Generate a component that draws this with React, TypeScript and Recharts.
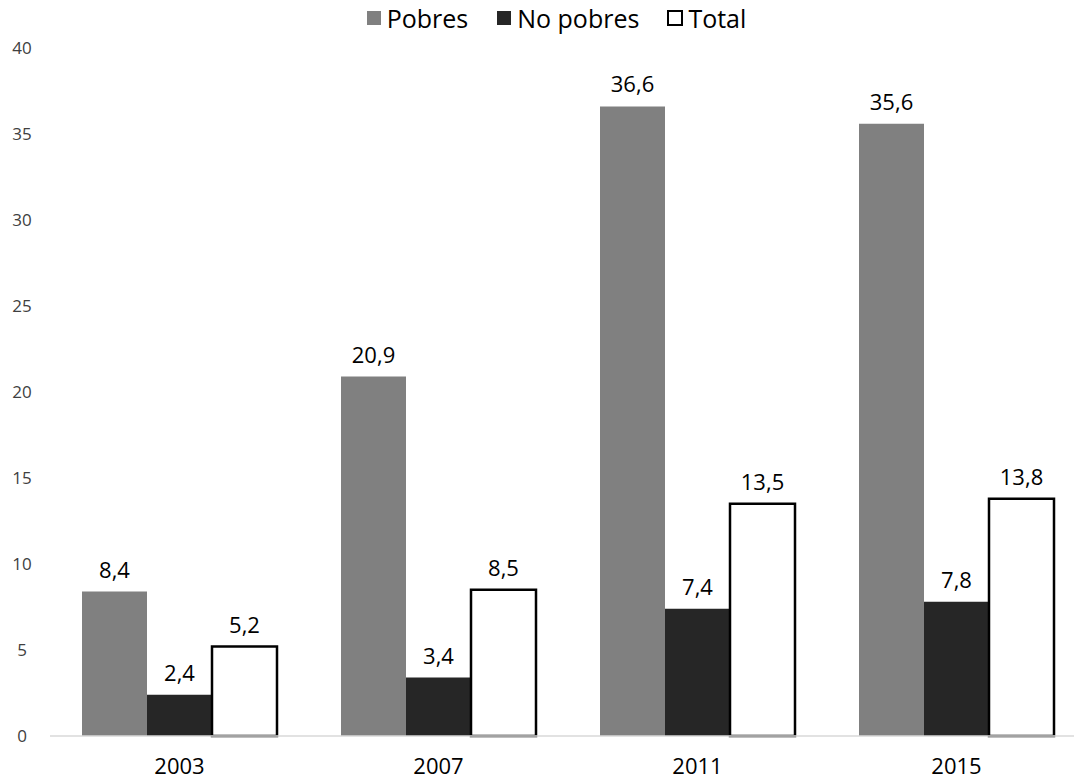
import { Bar, BarChart, LabelList, XAxis, YAxis } from "recharts";

// #region Sample data
const years = ["2003", "2007", "2011", "2015"];
const pobres = [8.4, 20.9, 36.6, 35.6];
const noPobres = [2.4, 3.4, 7.4, 7.8];
const total = [5.2, 8.5, 13.5, 13.8];
const yTicks = [0, 5, 10, 15, 20, 25, 30, 35, 40];

const data = years.map((year, i) => ({
  year,
  pobres: pobres[i],
  noPobres: noPobres[i],
  total: total[i],
}));
// #endregion

const FONT = "'Open Sans', sans-serif";

const legendItems = [
  { label: "Pobres", fill: "#808080", stroke: "none" },
  { label: "No pobres", fill: "#262626", stroke: "none" },
  { label: "Total", fill: "#ffffff", stroke: "#000000" },
];

// legend drawn as plain html so it doesn't push the plot down
const LegendBox = () => (
  <div
    style={{
      position: "absolute",
      top: 1,
      left: 0,
      width: 1112,
      display: "flex",
      justifyContent: "center",
      gap: 28,
      fontFamily: FONT,
      fontSize: 25,
      color: "#000",
    }}
  >
    {legendItems.map((item) => (
      <div key={item.label} style={{ display: "flex", alignItems: "center", gap: 5 }}>
        <svg width={16} height={16}>
          <rect
            x={1}
            y={1}
            width={14}
            height={14}
            fill={item.fill}
            stroke={item.stroke}
            strokeWidth={item.stroke === "none" ? 0 : 2}
          />
        </svg>
        <span>{item.label}</span>
      </div>
    ))}
  </div>
);

const YTick = ({ y, payload }: any) => (
  <text x={22} y={y} dy="0.35em" textAnchor="middle" fontFamily={FONT} fontSize={17} fill="#404040">
    {payload.value}
  </text>
);

const fmt = (v: any) => String(v).replace(".", ",");

const App = () => (
  <div style={{ position: "absolute", top: 0, left: 0, width: 1074, height: 779, overflow: "hidden", background: "#fff" }}>
    <BarChart
      width={1086}
      height={779}
      data={data}
      margin={{ top: 48, right: 0, left: 0, bottom: 0 }}
      barGap={0}
      barCategoryGap={32}
    >
      <XAxis
        dataKey="year"
        height={43}
        tickLine={false}
        tickSize={0}
        tickMargin={22}
        axisLine={{ stroke: "#d9d9d9", strokeWidth: 1.5 }}
        tick={{ fontFamily: FONT, fontSize: 22, fill: "#000" }}
      />
      <YAxis
        width={50}
        domain={[0, 40]}
        ticks={yTicks}
        axisLine={false}
        tickLine={false}
        tick={<YTick />}
      />
      <Bar dataKey="pobres" name="Pobres" fill="#808080" isAnimationActive={false}>
        <LabelList dataKey="pobres" position="top" offset={14} formatter={fmt} fontFamily={FONT} fontSize={22} fill="#000" />
      </Bar>
      <Bar dataKey="noPobres" name="No pobres" fill="#262626" isAnimationActive={false}>
        <LabelList dataKey="noPobres" position="top" offset={14} formatter={fmt} fontFamily={FONT} fontSize={22} fill="#000" />
      </Bar>
      <Bar dataKey="total" name="Total" fill="#ffffff" stroke="#000000" strokeWidth={2.5} isAnimationActive={false}>
        <LabelList dataKey="total" position="top" offset={14} formatter={fmt} fontFamily={FONT} fontSize={22} fill="#000" />
      </Bar>
    </BarChart>
    <LegendBox />
  </div>
);

export default App;
